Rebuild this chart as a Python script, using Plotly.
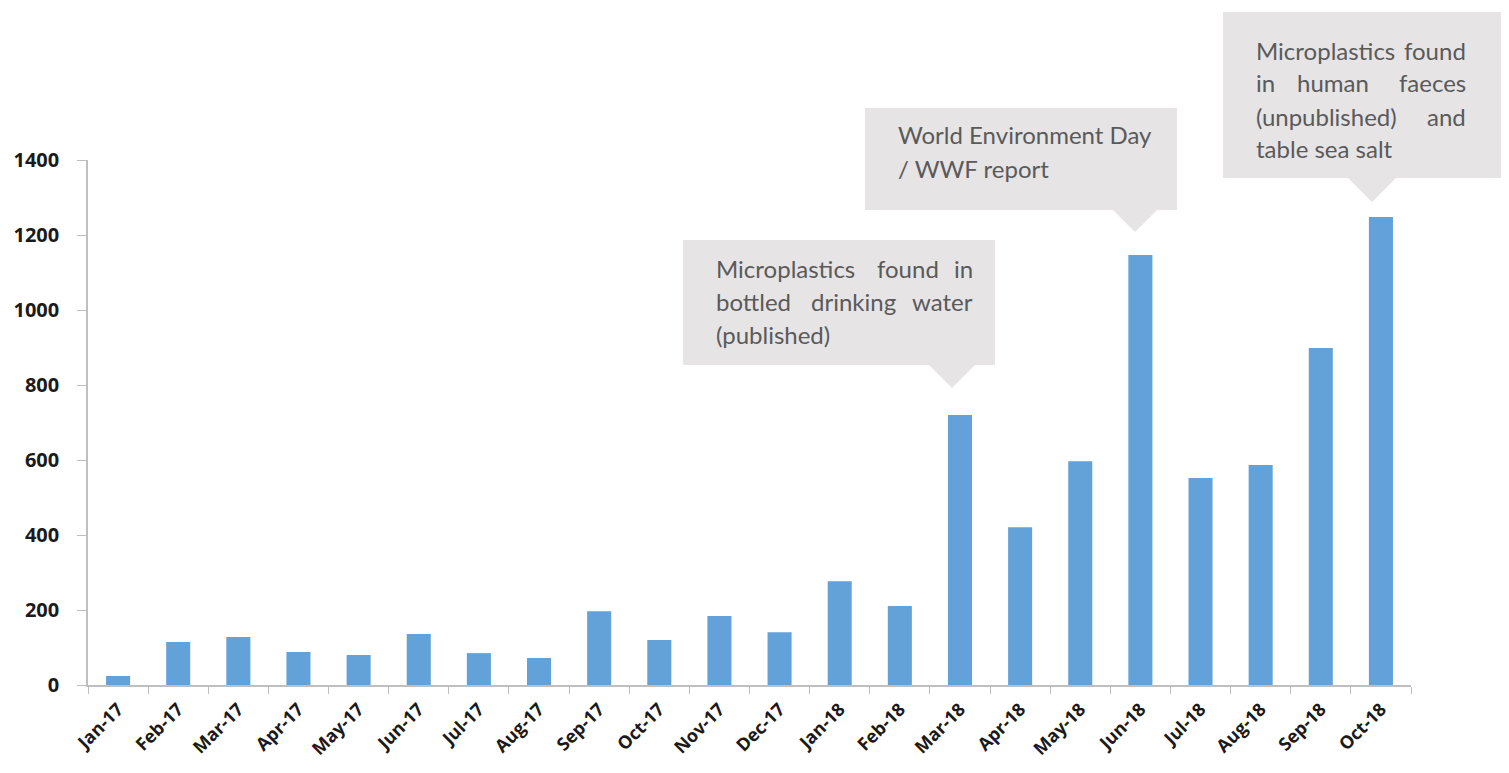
import plotly.graph_objects as go

months = ["Jan-17", "Feb-17", "Mar-17", "Apr-17", "May-17", "Jun-17", "Jul-17", "Aug-17",
          "Sep-17", "Oct-17", "Nov-17", "Dec-17", "Jan-18", "Feb-18", "Mar-18", "Apr-18",
          "May-18", "Jun-18", "Jul-18", "Aug-18", "Sep-18", "Oct-18"]
counts = [24, 115, 128, 88, 80, 136, 85, 72, 197, 120, 184, 141, 277, 211, 720, 421,
          597, 1147, 552, 587, 899, 1248]
y_ticks = [0, 200, 400, 600, 800, 1000, 1200, 1400]

# callout text, one list of words per (justified) line
callout_lines = [
    [["Microplastics", "found", "in"], ["bottled", "drinking", "water"], ["(published)"]],
    [["World Environment Day"], ["/ WWF report"]],
    [["Microplastics", "found"], ["in", "human", "faeces"], ["(unpublished)", "and"], ["table sea salt"]],
]

OFF = 8  # page body margin
W, H = 1509 - 2 * OFF, 773 - 2 * OFF
L, R, T, B = 88, 1411, 160, 685


def px(x):
    return (x - L) / (R - L)


def py(y):
    return (B - y) / (B - T)


fig = go.Figure()
fig.add_trace(go.Bar(x=months, y=counts, marker=dict(color="#63A2D8", line=dict(width=0)),
                     width=0.4))

# callout geometry in page pixels: box x0,y0,x1,y1, pointer tip x,y,
# text left, text right, first line centre y, line step, middle-word centres per line
boxes = [
    dict(box=(683, 240, 995, 365), tip=(952, 388), tl=714, tr=975, y0=268, step=33,
         mids=[[908], [854], []], justify=[True, True, False]),
    dict(box=(865, 108, 1177, 210), tip=(1135, 232), tl=896, tr=1157, y0=135, step=33,
         mids=[[], []], justify=[False, False]),
    dict(box=(1223, 12, 1502, 178), tip=(1372, 202), tl=1254, tr=1468, y0=50, step=33,
         mids=[[], [1333], [], []], justify=[True, True, True, False]),
]
FONT = dict(family="Lato", size=24, color="#5a5a5a")
shapes = []
annotations = []
for g, lines in zip(boxes, callout_lines):
    x0, y0, x1, y1 = g["box"]
    tx, ty = g["tip"]
    shapes.append(dict(type="rect", xref="paper", yref="paper",
                       x0=px(x0), x1=px(x1), y0=py(y1), y1=py(y0),
                       fillcolor="#E6E4E5", line=dict(width=0), layer="above"))
    hw = ty - y1
    path = "M {} {} L {} {} L {} {} Z".format(px(tx - hw), py(y1), px(tx + hw), py(y1), px(tx), py(ty))
    shapes.append(dict(type="path", xref="paper", yref="paper", path=path,
                       fillcolor="#E6E4E5", line=dict(width=0), layer="above"))
    for i, words in enumerate(lines):
        yy = py(g["y0"] + i * g["step"])
        if g["justify"][i] and len(words) > 1:
            annotations.append(dict(xref="paper", yref="paper", x=px(g["tl"]), y=yy,
                                    xanchor="left", yanchor="middle", showarrow=False,
                                    text=words[0], font=FONT))
            annotations.append(dict(xref="paper", yref="paper", x=px(g["tr"]), y=yy,
                                    xanchor="right", yanchor="middle", showarrow=False,
                                    text=words[-1], font=FONT))
            for w, mx in zip(words[1:-1], g["mids"][i]):
                annotations.append(dict(xref="paper", yref="paper", x=px(mx), y=yy,
                                        xanchor="center", yanchor="middle", showarrow=False,
                                        text=w, font=FONT))
        else:
            annotations.append(dict(xref="paper", yref="paper", x=px(g["tl"]), y=yy,
                                    xanchor="left", yanchor="middle", showarrow=False,
                                    text=" ".join(words), font=FONT))

fig.update_layout(
    width=W, height=H,
    margin=dict(l=L - OFF, r=W - (R - OFF), t=T - OFF, b=H - (B - OFF), pad=0),
    paper_bgcolor="white", plot_bgcolor="white",
    showlegend=False,
    bargap=0.6,
    shapes=shapes,
    annotations=annotations,
    xaxis=dict(type="category", tickangle=-45, tickson="boundaries",
               ticks="outside", ticklen=7, tickcolor="#BFBFBF",
               showline=True, linecolor="#BFBFBF", linewidth=1.5,
               showgrid=False, zeroline=False, automargin=False, ticklabelstandoff=5,
               tickfont=dict(family="Open Sans", size=18, color="#1a1a1a", weight="bold")),
    yaxis=dict(range=[0, 1400], tickvals=y_ticks, ticks="outside", ticklen=9,
               tickcolor="#BFBFBF", showline=True, linecolor="#BFBFBF", linewidth=1.5,
               showgrid=False, zeroline=False, ticklabelstandoff=14, automargin=False,
               tickfont=dict(family="Open Sans", size=20, color="#1a1a1a", weight="bold")),
)

fig.write_html("out.html")
